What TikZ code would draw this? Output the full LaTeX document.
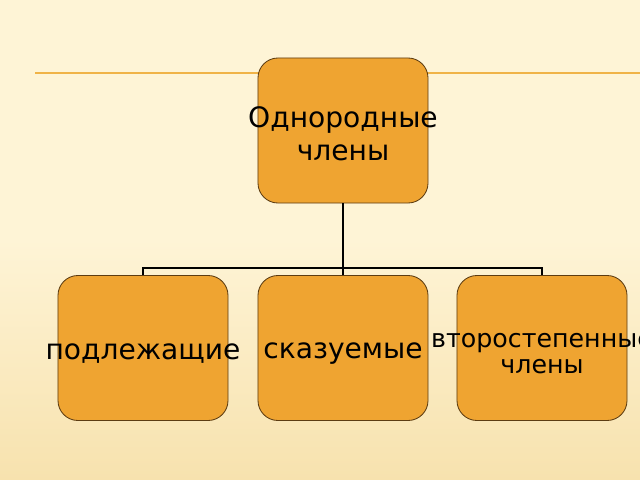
\documentclass[tikz,border=0pt]{standalone}
\usepackage{fontspec}
\setmainfont{DejaVu Sans}
\usetikzlibrary{positioning}

\definecolor{boxfill}{HTML}{EFA431}
\definecolor{boxline}{HTML}{5C3C12}
\definecolor{bgtop}{HTML}{FEF4D6}
\definecolor{bgbot}{HTML}{F7E2AE}
\definecolor{rule}{HTML}{F0B347}

\begin{document}
\begin{tikzpicture}[x=0.025cm,y=-0.025cm,thick,
  every node/.style={inner sep=0pt},
  blockbox/.style={draw=boxline,line width=0.6pt,fill=boxfill,rounded corners=0.5cm,
    minimum width=4.25cm,minimum height=3.625cm},
  blocktext/.style={align=center,font=\fontsize{20}{23.4}\selectfont,yshift=-2pt},
  smalltext/.style={align=center,font=\fontsize{18}{18.5}\selectfont,yshift=-4pt}]
  % background
  \shade[top color=bgtop,bottom color=bgbot,middle color=bgtop] (0,0) rectangle (640,480);
  \useasboundingbox (0,0) rectangle (640,480);
  \draw[rule,line width=1.2pt] (35,73) -- (640,73);
  % boxes
  \node[blockbox] (top) at (343,130.5) {};
  \node[blockbox] (sub) at (143,348) {};
  \node[blockbox] (pred) at (343,348) {};
  \node[blockbox] (sec) at (542,348) {};
  \node[blocktext] (toptxt) at (top) {Однородные\\члены};
  \node[blocktext,yshift=-2pt] (subtxt) at (sub) {подлежащие};
  \node[blocktext,yshift=-2pt] (predtxt) at (pred) {сказуемые};
  \node[smalltext] (sectxt) at (sec) {второстепенные\\члены};
  % connectors
  \coordinate (fork) at (343,268);
  \draw[black,line width=1.3pt] (top.south) -- (fork) -| (sub.north);
  \draw[black,line width=1.3pt] (fork) -- (pred.north);
  \draw[black,line width=1.3pt] (fork) -| (sec.north);
\end{tikzpicture}
\end{document}
